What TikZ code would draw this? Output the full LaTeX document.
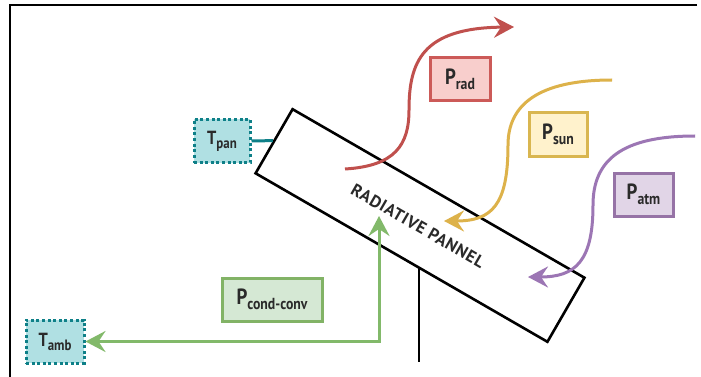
\documentclass[tikz,border=0pt]{standalone}
\usepackage{fontspec}
\setmainfont{PT Sans}[FakeStretch=0.88]
\newfontfamily\panelfont{PT Sans Bold}[LetterSpace=4]
\newfontfamily\lblfont{PT Sans Bold}[FakeStretch=0.86]
\usetikzlibrary{arrows.meta}
\definecolor{redl}{HTML}{C0504D}
\definecolor{redf}{HTML}{F8CECC}
\definecolor{redb}{HTML}{CC5A58}
\definecolor{yell}{HTML}{DDB24A}
\definecolor{yelf}{HTML}{FFF2CC}
\definecolor{yelb}{HTML}{D9B650}
\definecolor{purl}{HTML}{9C76B4}
\definecolor{purf}{HTML}{E1D5E7}
\definecolor{purb}{HTML}{9673A6}
\definecolor{grnl}{HTML}{82B96A}
\definecolor{grnf}{HTML}{D5E8D4}
\definecolor{grnb}{HTML}{82B366}
\definecolor{teal}{HTML}{0E8088}
\definecolor{tealf}{HTML}{B0E0E3}
\definecolor{txt}{HTML}{2A2A2A}
\newcommand\lbl[2]{#1\raisebox{-0.42ex}{\fontsize{16}{16}\selectfont #2}}
\newcommand\tlbl[2]{#1\raisebox{-0.42ex}{\fontsize{15}{15}\selectfont #2}}
\tikzset{
  x=1pt, y=-1pt,
  pbox/.style={draw=#1b, fill=#1f, line width=3pt, minimum height=43pt, inner sep=1pt, text=txt, font=\lblfont\fontsize{22}{22}\selectfont, anchor=center},
  tbox/.style={draw=teal, fill=tealf, line width=3pt, dash pattern=on 3pt off 2.6pt, minimum width=56pt, minimum height=43pt, inner sep=1pt, text=txt, font=\lblfont\fontsize{19}{19}\selectfont},
  tipx/.tip={Stealth[length=20pt,width=21pt,inset=7pt]},
  flow/.style={line width=3pt, -tipx},
  panelbox/.style={draw=black, line width=2.6pt, fill=white, minimum width=337pt, minimum height=74pt, rotate=-30},
}
\begin{document}
\begin{tikzpicture}
\useasboundingbox (0,0) rectangle (701,377);
\fill[white] (0,0) rectangle (701,377);
% frame
\coordinate (fr1) at (697,5);
\coordinate (fr2) at (10,5);
\coordinate (fr3) at (10,377);
\draw[line width=2.2pt] (fr1) -- (fr2) -- (fr3);
% post
\coordinate (postt) at (419,268);
\coordinate (postb) at (419,362);
\draw[line width=2.6pt] (postt) -- (postb);
% panel
\node[panelbox] (panel) at (420,225.5) {};
\node[rotate=-30, text=txt, font=\panelfont\fontsize{17}{17}\selectfont] (ptext) at (418,226) {RADIATIVE PANNEL};
% boxes
\node[pbox=red, minimum width=60pt] (prad) at (460,79) {\lbl{P}{rad}};
\node[pbox=yel, minimum width=58pt] (psun) at (558,134.5) {\lbl{P}{sun}};
\node[pbox=pur, minimum width=59pt] (patm) at (643.5,194.5) {\lbl{P}{atm}};
\node[pbox=grn, minimum width=100pt] (pcc) at (272,299.5) {\lbl{P}{cond-conv}};
\node[tbox] (tpan) at (222,141) {\tlbl{T}{pan}};
\node[tbox, minimum width=58pt] (tamb) at (55,341.5) {\tlbl{T}{amb}};
% T_pan link
\draw[teal, line width=3pt] (tpan.east) -- (panel.west);
% flows
\coordinate (rs) at (345,169);
\coordinate (re) at (514,27);
\draw[flow, redl] (rs) .. controls (395,166) and (409,145) .. (409,110)
  .. controls (409,62) and (422,28) .. (re);
\coordinate (ys) at (612,80);
\coordinate (ye) at (444,221);
\draw[flow, yell] (ys) .. controls (538,80) and (508,105) .. (508,145)
  .. controls (508,205) and (492,221) .. (ye);
\coordinate (us) at (695,136);
\coordinate (ue) at (528,277);
\draw[flow, purl] (us) .. controls (622,136) and (593,160) .. (593,205)
  .. controls (593,262) and (575,277) .. (ue);
\coordinate (gs) at (379,216);
\draw[grnl, line width=3pt, tipx-tipx] (gs) |- (tamb.east);
\end{tikzpicture}
\end{document}
